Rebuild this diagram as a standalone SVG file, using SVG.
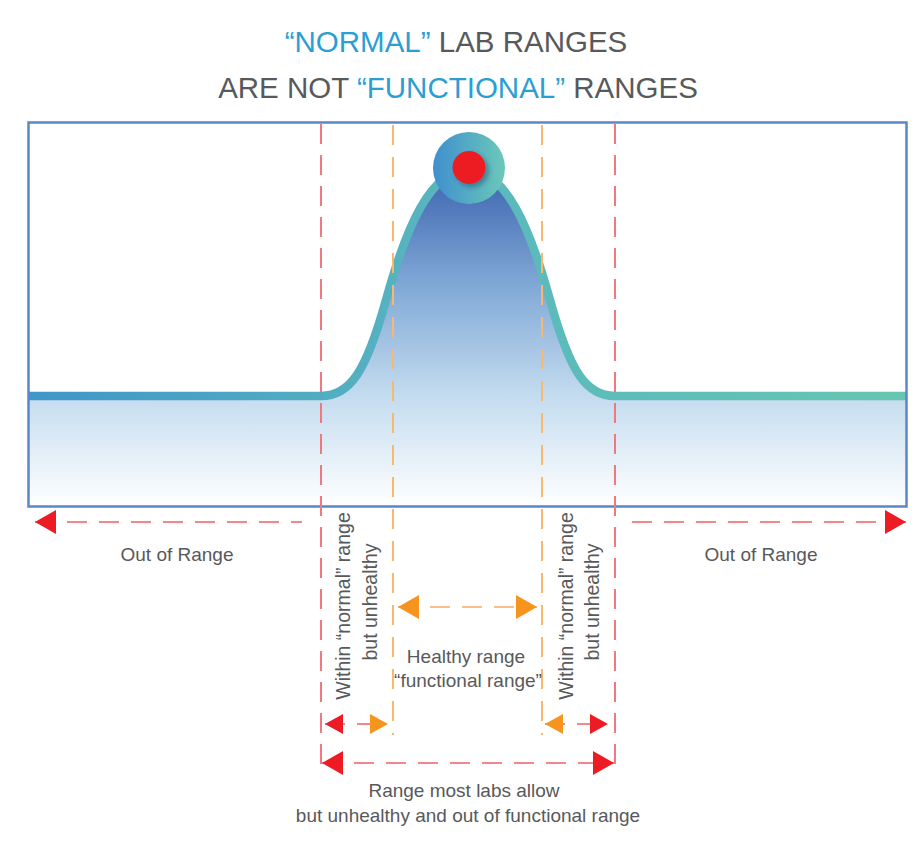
<svg xmlns="http://www.w3.org/2000/svg" width="924" height="868" viewBox="0 0 924 868">
<defs>
<style>
.t{font-family:"Liberation Sans",Arial,sans-serif;fill:#58595b;}
.title{font-size:29.5px;}
.blue{fill:#2b9ed3;}
.lbl{font-size:19px;}
.rot{font-size:19.5px;}
.vred{stroke:#f2787f;stroke-width:2;stroke-dasharray:20 11;fill:none;}
.vora{stroke:#f9b86c;stroke-width:2;stroke-dasharray:20 12;fill:none;}
.ared{stroke:#f4868c;stroke-width:2;stroke-dasharray:20 12;fill:none;}
.aora{stroke:#f9c08a;stroke-width:2;stroke-dasharray:20 12;fill:none;}
</style>
<linearGradient id="curveG" gradientUnits="userSpaceOnUse" x1="29" y1="0" x2="907" y2="0">
<stop offset="0" stop-color="#4096c8"/>
<stop offset="0.5" stop-color="#5ab8be"/>
<stop offset="1" stop-color="#66c6b0"/>
</linearGradient>
<linearGradient id="fillG" gradientUnits="userSpaceOnUse" x1="0" y1="165" x2="0" y2="506">
<stop offset="0" stop-color="#3860ad"/>
<stop offset="0.35" stop-color="#80a8d6"/>
<stop offset="0.68" stop-color="#c4dcef"/>
<stop offset="1" stop-color="#ffffff"/>
</linearGradient>
<linearGradient id="circG" x1="0" y1="0" x2="1" y2="0">
<stop offset="0" stop-color="#3f8fcf"/>
<stop offset="1" stop-color="#6cc8b8"/>
</linearGradient>
<filter id="sh" x="-50%" y="-50%" width="200%" height="200%">
<feDropShadow dx="3" dy="3" stdDeviation="2.5" flood-color="#1d3a5a" flood-opacity="0.45"/>
</filter>
<marker id="redL" viewBox="0 0 21 24" refX="21" refY="12" markerWidth="21" markerHeight="24" markerUnits="userSpaceOnUse" orient="auto-start-reverse">
<path d="M0,0 L21,12 L0,24 Z" fill="#ed1c24"/>
</marker>
<marker id="oraL" viewBox="0 0 21 24" refX="21" refY="12" markerWidth="21" markerHeight="24" markerUnits="userSpaceOnUse" orient="auto-start-reverse">
<path d="M0,0 L21,12 L0,24 Z" fill="#f7941d"/>
</marker>
<marker id="redS" viewBox="0 0 18 20" refX="18" refY="10" markerWidth="18" markerHeight="20" markerUnits="userSpaceOnUse" orient="auto-start-reverse">
<path d="M0,0 L18,10 L0,20 Z" fill="#ed1c24"/>
</marker>
<marker id="oraS" viewBox="0 0 18 20" refX="18" refY="10" markerWidth="18" markerHeight="20" markerUnits="userSpaceOnUse" orient="auto-start-reverse">
<path d="M0,0 L18,10 L0,20 Z" fill="#f7941d"/>
</marker>
</defs>
<rect width="924" height="868" fill="#ffffff"/>

<g id="title">
<text class="t title" x="456" y="52" text-anchor="middle"><tspan class="blue">“NORMAL”</tspan> LAB RANGES</text>
<text class="t title" x="458" y="98" text-anchor="middle">ARE NOT <tspan class="blue">“FUNCTIONAL”</tspan> RANGES</text>
</g>

<g id="chart">
<path d="M29,396 L321,396 C350,396 366,372 386,300 C406,228 430,170 468,170 C506,170 530,228 550,300 C570,372 586,396 615,396 L907,396 L907,506 L29,506 Z" fill="url(#fillG)"/>
<path d="M29,396 L321,396 C350,396 366,372 386,300 C406,228 430,170 468,170 C506,170 530,228 550,300 C570,372 586,396 615,396 L907,396" fill="none" stroke="url(#curveG)" stroke-width="8.5"/>
<rect x="28.5" y="122.5" width="878" height="384" fill="none" stroke="#5b86c9" stroke-width="2.5"/>
</g>

<g id="peak">
<circle cx="469" cy="168" r="36" fill="url(#circG)"/>
<circle cx="469" cy="167.5" r="16.5" fill="#ed1c24" filter="url(#sh)"/>
</g>

<g id="connectors">
<line class="vred" x1="321" y1="124" x2="321" y2="775"/>
<line class="vred" x1="615" y1="124" x2="615" y2="775"/>
<line class="vora" x1="393" y1="125" x2="393" y2="735"/>
<line class="vora" x1="542" y1="125" x2="542" y2="735"/>
<line class="ared" x1="35" y1="522" x2="302" y2="522" marker-start="url(#redL)"/>
<line class="ared" x1="632" y1="522" x2="906" y2="522" marker-end="url(#redL)"/>
<line class="aora" x1="398" y1="607" x2="537" y2="607" marker-start="url(#oraL)" marker-end="url(#oraL)"/>
<line class="ared" x1="325" y1="724" x2="388" y2="724" stroke-dasharray="12 8" marker-start="url(#redS)" marker-end="url(#oraS)"/>
<line class="ared" x1="545" y1="724" x2="608" y2="724" stroke-dasharray="12 8" marker-start="url(#oraS)" marker-end="url(#redS)"/>
<line class="ared" x1="322" y1="763" x2="614" y2="763" marker-start="url(#redL)" marker-end="url(#redL)"/>
</g>

<g id="labels">
<text class="t lbl" x="177" y="561" text-anchor="middle">Out of Range</text>
<text class="t lbl" x="761" y="561" text-anchor="middle">Out of Range</text>
<text class="t rot" transform="translate(350,606) rotate(-90)" text-anchor="middle">Within “normal” range</text>
<text class="t rot" transform="translate(377,602) rotate(-90)" text-anchor="middle">but unhealthy</text>
<text class="t rot" transform="translate(573,606) rotate(-90)" text-anchor="middle">Within “normal” range</text>
<text class="t rot" transform="translate(599,602) rotate(-90)" text-anchor="middle">but unhealthy</text>
<text class="t lbl" x="466" y="663" text-anchor="middle">Healthy range</text>
<text class="t lbl" x="468" y="687" text-anchor="middle">“functional range”</text>
<text class="t lbl" x="464" y="797" text-anchor="middle">Range most labs allow</text>
<text class="t lbl" x="468" y="822" text-anchor="middle">but unhealthy and out of functional range</text>
</g>
</svg>
